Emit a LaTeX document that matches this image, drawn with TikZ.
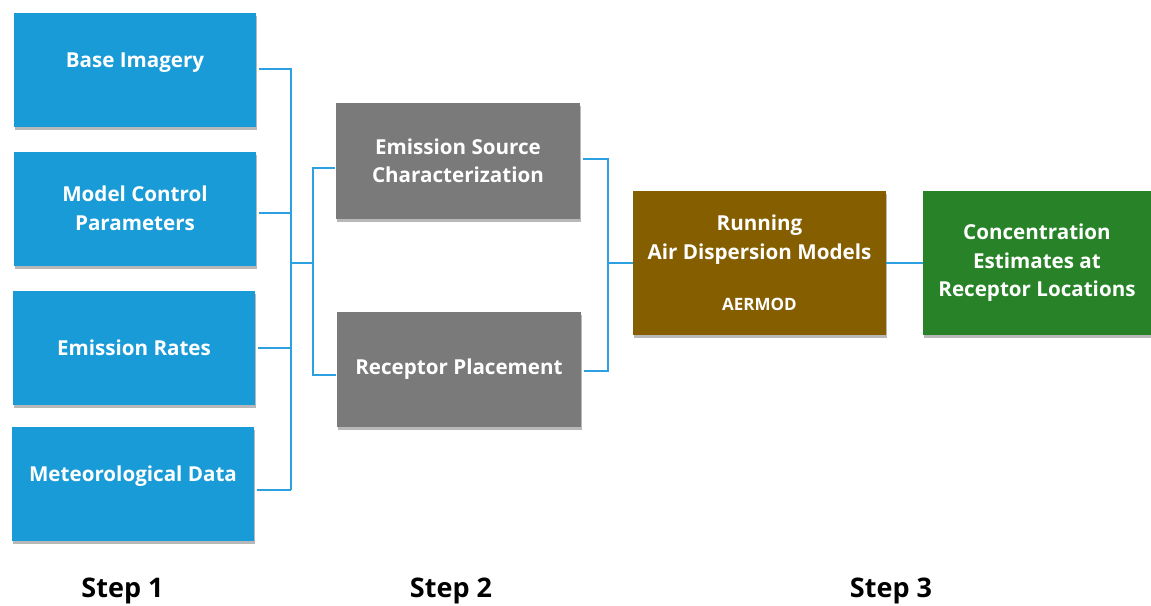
\documentclass[tikz,border=0pt]{standalone}
\usepackage{fontspec}
\setmainfont{Open Sans}
\usetikzlibrary{shadows}
\definecolor{boxblue}{RGB}{25,155,215}
\definecolor{boxgray}{RGB}{122,122,122}
\definecolor{boxbrown}{RGB}{133,94,0}
\definecolor{boxgreen}{RGB}{40,130,40}
\definecolor{linkblue}{RGB}{45,160,225}
\tikzset{
  box/.style={rectangle, text=white, font=\bfseries\fontsize{20.6}{28.5}\selectfont, align=center, inner sep=0pt,
    drop shadow={shadow xshift=1pt, shadow yshift=-3pt, fill=black, opacity=0.28}},
  bluebox/.style={box, fill=boxblue, minimum width=242pt, minimum height=114pt},
  graybox/.style={box, fill=boxgray, minimum width=244pt, minimum height=116pt},
  brownbox/.style={box, fill=boxbrown, minimum width=253pt, minimum height=144pt},
  greenbox/.style={box, fill=boxgreen, minimum width=228pt, minimum height=144pt},
  conn/.style={draw=linkblue, line width=1.4pt},
  steplabel/.style={font=\bfseries\fontsize{27}{30}\selectfont, text=black, inner sep=0pt, anchor=base}
}
\begin{document}
\begin{tikzpicture}[x=1pt,y=-1pt]
\useasboundingbox (0,0) rectangle (1151,605);
% Step 1 boxes
\node[bluebox, text depth=20pt] (b1) at (135,70) {Base Imagery};
\node[bluebox] (b2) at (135,208.5) {Model Control\\Parameters};
\node[bluebox] (b3) at (134,348) {Emission Rates};
\node[bluebox, text depth=20pt] (b4) at (133,483.5) {Meteorological Data};
% Step 2 boxes
\node[graybox] (g1) at (458,161) {Emission Source\\Characterization};
\node[graybox, minimum height=115pt] (g2) at (459,369.5) {Receptor Placement};
% Step 3 boxes
\node[brownbox] (r) at (759.5,263) {Running\\Air Dispersion Models\\[23pt]{\fontsize{17}{20}\selectfont AERMOD}};
\node[greenbox] (c) at (1037,263) {Concentration\\Estimates at\\Receptor Locations};
% junction coordinates
\coordinate (s1t) at (291,69);
\coordinate (s1b) at (291,490);
\coordinate (s1m) at (291,263);
\coordinate (s2t) at (313,168);
\coordinate (s2b) at (313,375);
\coordinate (s3t) at (608,159);
\coordinate (s3b) at (608,371);
% step 1 bracket
\draw[conn] ([xshift=3pt,yshift=1pt]b1.east) -- (s1t) -- (s1b);
\draw[conn] ([xshift=3pt,yshift=-4.5pt]b2.east) -- ([yshift=-4.5pt]b2.east -| s1t);
\draw[conn] ([xshift=3pt]b3.east) -- (b3.east -| s1t);
\draw[conn] ([xshift=3pt,yshift=-6.5pt]b4.east) -- (s1b);
\draw[conn] (s1m) -- (s1m -| s2t);
% step 2 bracket
\draw[conn] ([xshift=-1pt,yshift=-7pt]g1.west) -- (s2t) -- (s2b) -- ([xshift=-1pt,yshift=-5.5pt]g2.west);
\draw[conn] ([xshift=3pt,yshift=2pt]g1.east) -- (s3t) -- (s3b) -- ([xshift=3pt,yshift=-1.5pt]g2.east);
\draw[conn] (s3t |- r.west) -- (r.west);
\draw[conn] (r.east) -- (c.west);
% step labels
\node[steplabel] (l1) at (122.5,597) {Step 1};
\node[steplabel] (l2) at (451,597) {Step 2};
\node[steplabel] (l3) at (891,597) {Step 3};
\end{tikzpicture}
\end{document}
